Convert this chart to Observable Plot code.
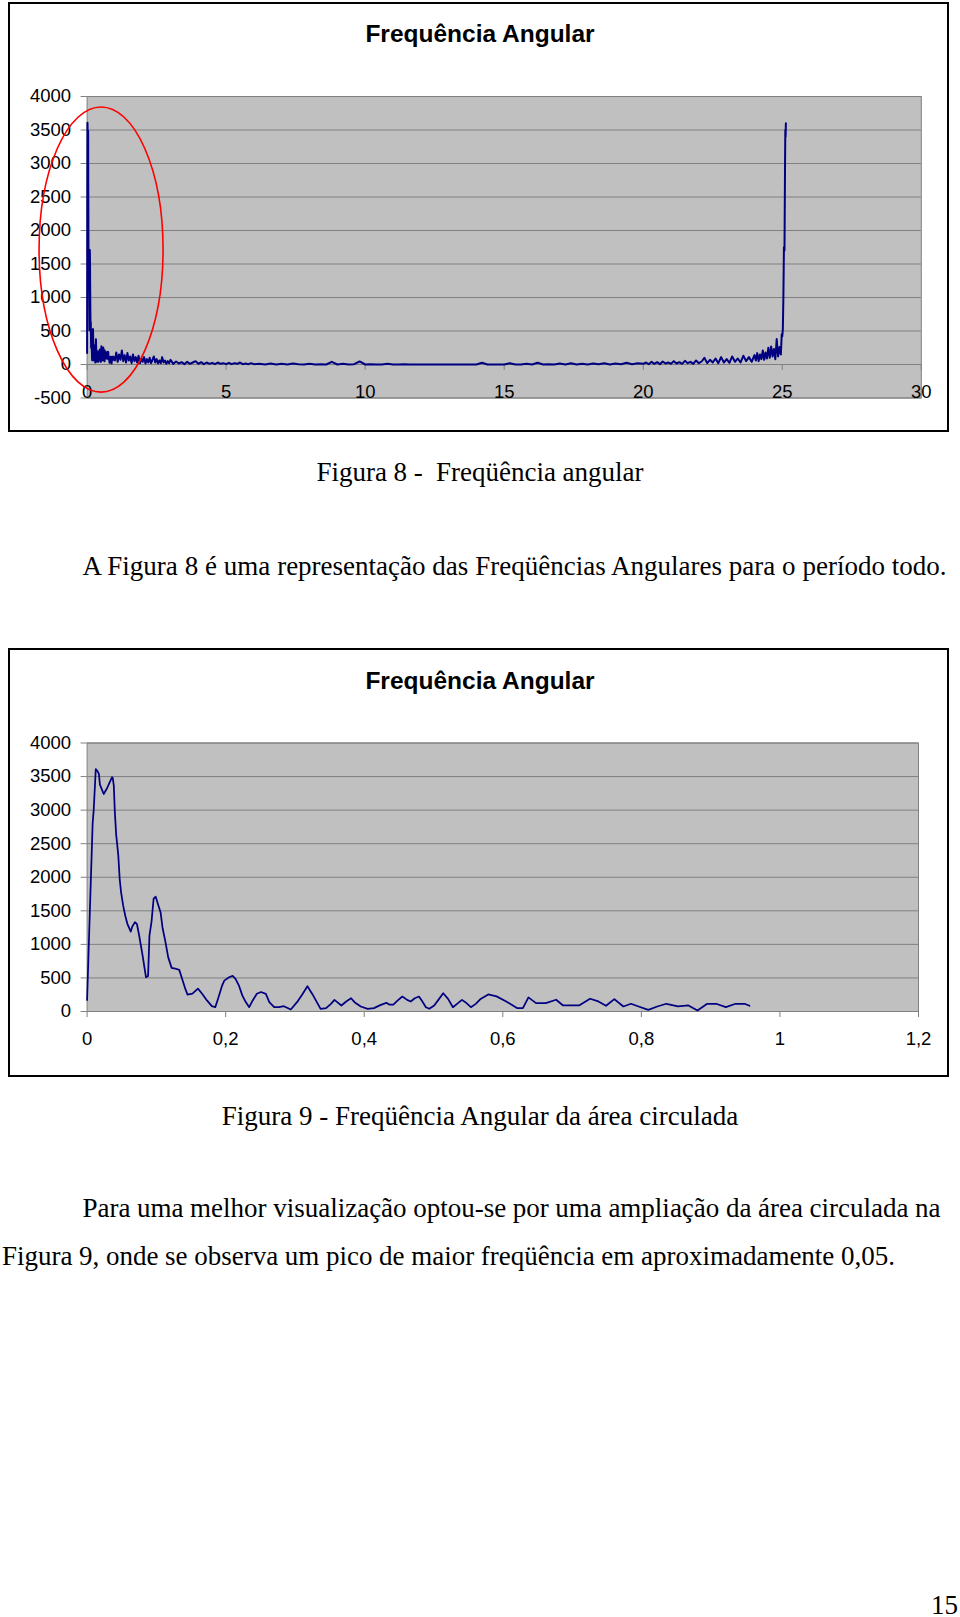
<!DOCTYPE html>
<html><head><meta charset="utf-8">
<script src="https://cdn.jsdelivr.net/npm/d3@7"></script>
<script src="https://cdn.jsdelivr.net/npm/@observablehq/plot@0.6"></script>
<style>
html,body{margin:0;padding:0;background:#fff;}
body{width:960px;height:1617px;position:relative;overflow:hidden;}
.frame{position:absolute;border:2px solid #000;box-sizing:border-box;}
.ctitle{position:absolute;left:0;width:960px;text-align:center;font:bold 24.5px "Liberation Sans",Arial,sans-serif;line-height:30px;color:#000;}
.serif{position:absolute;font-family:"Liberation Serif","Times New Roman",serif;font-size:27px;line-height:32px;white-space:pre;color:#000;}
.plot{position:absolute;}
</style></head><body>

<div class="frame" style="left:8px;top:2px;width:941px;height:430px;"></div>
<div class="ctitle" style="top:19px;">Frequência Angular</div>
<div id="chart1" class="plot" style="left:10px;top:60px;"></div>

<div class="serif" data-w="327" style="left:316.5px;top:456px;">Figura 8 -  Freqüência angular</div>
<div class="serif" data-w="864" style="left:82.5px;top:549.5px;">A Figura 8 é uma representação das Freqüências Angulares para o período todo.</div>

<div class="frame" style="left:8px;top:647.5px;width:941px;height:429px;"></div>
<div class="ctitle" style="top:665.5px;">Frequência Angular</div>
<div id="chart2" class="plot" style="left:10px;top:700px;"></div>

<div class="serif" data-w="516.6" style="left:221.7px;top:1099.5px;">Figura 9 - Freqüência Angular da área circulada</div>
<div class="serif" data-w="858" style="left:82.5px;top:1191.5px;">Para uma melhor visualização optou-se por uma ampliação da área circulada na</div>
<div class="serif" data-w="893" style="left:2px;top:1239.5px;">Figura 9, onde se observa um pico de maior freqüência em aproximadamente 0,05.</div>
<div class="serif" style="right:2px;top:1589px;">15</div>

<script>
// ---------- DATA ----------
// Zoomed view (Figura 9): angular frequency vs amplitude, 0 to ~0.96
const zoomFreq = [0.000,0.004,0.008,0.0095,0.0115,0.0125,0.015,0.017,0.0185,0.024,0.029,0.036,0.037,0.0386,0.040,0.042,0.045,0.047,0.049,0.052,0.055,0.058,0.063,0.065,0.069,0.072,0.075,0.080,0.085,0.088,0.090,0.093,0.096,0.099,0.102,0.106,0.109,0.113,0.117,0.122,0.127,0.133,0.137,0.141,0.145,0.152,0.160,0.166,0.173,0.180,0.185,0.189,0.195,0.198,0.205,0.210,0.214,0.219,0.224,0.229,0.234,0.239,0.245,0.251,0.258,0.263,0.270,0.277,0.284,0.294,0.303,0.311,0.318,0.325,0.333,0.337,0.345,0.352,0.357,0.361,0.367,0.374,0.381,0.386,0.395,0.405,0.414,0.424,0.432,0.436,0.442,0.448,0.455,0.462,0.467,0.473,0.479,0.483,0.489,0.494,0.501,0.507,0.514,0.521,0.528,0.534,0.541,0.546,0.554,0.561,0.568,0.579,0.591,0.605,0.621,0.629,0.637,0.648,0.662,0.677,0.687,0.710,0.726,0.738,0.749,0.761,0.774,0.785,0.796,0.810,0.823,0.836,0.853,0.868,0.881,0.895,0.908,0.922,0.936,0.949,0.956];
const zoomAmp = [170,1500,2800,3000,3400,3610,3580,3540,3380,3240,3330,3490,3480,3360,2980,2630,2330,1980,1780,1580,1430,1310,1190,1260,1330,1300,1140,840,510,530,1130,1340,1680,1710,1610,1480,1240,1040,810,650,640,620,490,360,250,265,340,265,165,80,65,190,390,460,510,530,490,390,240,140,65,165,265,290,262,139,64,64,79,30,139,262,376,262,114,40,50,114,173,139,89,149,198,139,74,40,50,99,129,104,104,163,223,173,149,198,223,163,64,40,89,173,272,188,64,114,173,139,64,114,188,255,225,150,50,50,210,125,125,175,90,90,190,150,85,185,75,115,75,25,75,115,75,90,15,115,115,65,115,115,85];

// Full view (Figura 8): rest of the spectrum, read as sampled bands
const bandStart = [1.0, 3.1, 6.2, 20.1, 24.05];
const bandStep  = [0.05, 0.1, 0.2, 0.1, 0.05];
const bandA = [60,180,40,150,70,210,50,140,30,170,60,120,20,150,50,110,30,130,20,90,40,110,15,80,30,100,20,70,120,30,80,15,60,20,110,30,60,10,50,20,70];
const bandB = [10,45,15,35,5,40,10,30,50,10,35,5,30,10,25,5,30,10,20,5,25,5,20,10,30,5,15,5,20,5];
const bandC = [10,0,15,0,10,0,15,5,0,10,0,5,0,40,0,10,0,5,45,0,5,0,0,10,0,0,5,0,0,0,0,0,0,0,0,0,0,0,0,0,25,0,0,0,0,20,0,0,10,0,25,0,5,0,15,0,20,0,10,0,15,5,20,0,15,5,25,5,20,10];
const bandD = [30,5,40,10,35,5,45,15,30,10,50,15,35,10,55,20,40,10,60,20,45,100,20,70,30,90,20,110,30,80,25,120,40,90,30,130,50,110,40,140];
const bandE = [60,170,50,150,80,210,70,180,90,250,100,270,120,230,80,380,120,260,150];
const peakFreq = [24.98,25.0,25.02,25.04,25.06,25.08,25.10,25.11,25.12,25.13];
const peakAmp  = [450,420,520,1000,1750,1700,3000,3500,3400,3600];

// Axes
const yTicks1 = [-500,0,500,1000,1500,2000,2500,3000,3500,4000];
const xTicks1 = [0,5,10,15,20,25,30];
const xLabels1 = ["0","5","10","15","20","25","30"];
const yTicks2 = [0,500,1000,1500,2000,2500,3000,3500,4000];
const xTicks2 = [0,0.2,0.4,0.6,0.8,1,1.2];
const xLabels2 = ["0","0,2","0,4","0,6","0,8","1","1,2"];

// Red ellipse marking the circled area (bounding box in data units)
const circleX = [-1.71, 2.75];
const circleY = [-420, 3836];

// ---------- BUILD ----------
const zoomData = zoomFreq.map((f, i) => ({f, a: zoomAmp[i]}));
const wideData = zoomData.slice();
[bandA, bandB, bandC, bandD, bandE].forEach((band, k) => {
  band.forEach((a, i) => wideData.push({f: bandStart[k] + i * bandStep[k], a}));
});
peakFreq.forEach((f, i) => wideData.push({f, a: peakAmp[i]}));

const FONT = '"Liberation Sans", Arial, sans-serif';
const GRID = "#808080";
const NAVY = "#000080";

function ellipseMark(index, scales) {
  const x0 = scales.x(circleX[0]), x1 = scales.x(circleX[1]);
  const y0 = scales.y(circleY[0]), y1 = scales.y(circleY[1]);
  return d3.create("svg:ellipse")
    .attr("cx", (x0 + x1) / 2).attr("cy", (y0 + y1) / 2)
    .attr("rx", Math.abs(x1 - x0) / 2).attr("ry", Math.abs(y1 - y0) / 2)
    .attr("fill", "none").attr("stroke", "#ff0000").attr("stroke-width", 1.6)
    .node();
}

function axisMarks(xTicks, xLabels, yTicks) {
  return [
    Plot.axisY(yTicks, {tickSize: 6, tickPadding: 10, stroke: GRID, fill: "#000", fontSize: 18.5, tickFormat: d => String(d), label: null}),
    Plot.ruleX(xTicks, {x: d => d, y1: () => 0, y2: () => 0, insetBottom: -6, stroke: GRID}),
    Plot.text(xTicks, {x: d => d, y: () => 0, dy: 28, text: (d, i) => xLabels[i], fontSize: 18.5, fill: "#000", lineAnchor: "middle", textAnchor: "middle"})
  ];
}

const chart1 = Plot.plot({
  width: 936, height: 368,
  marginLeft: 76.6, marginRight: 25.2, marginTop: 36, marginBottom: 30.5,
  style: {fontFamily: FONT, fontSize: "18.5px", color: "#000", background: "transparent", overflow: "visible"},
  x: {domain: [0, 30], axis: null},
  y: {domain: [-500, 4000]},
  marks: [
    Plot.frame({fill: "#C0C0C0", stroke: null}),
    Plot.ruleY(yTicks1, {stroke: GRID, strokeWidth: 1}),
    Plot.frame({stroke: GRID}),
    ...axisMarks(xTicks1, xLabels1, yTicks1),
    Plot.line(wideData, {x: "f", y: "a", stroke: NAVY, strokeWidth: 2}),
    ellipseMark
  ]
});
document.getElementById("chart1").appendChild(chart1);

const chart2 = Plot.plot({
  width: 936, height: 370,
  marginLeft: 76.6, marginRight: 28, marginTop: 42.5, marginBottom: 59,
  style: {fontFamily: FONT, fontSize: "18.5px", color: "#000", background: "transparent", overflow: "visible"},
  x: {domain: [0, 1.2], axis: null},
  y: {domain: [0, 4000]},
  marks: [
    Plot.frame({fill: "#C0C0C0", stroke: null}),
    Plot.ruleY(yTicks2, {stroke: GRID, strokeWidth: 1}),
    Plot.frame({stroke: GRID}),
    ...axisMarks(xTicks2, xLabels2, yTicks2),
    Plot.line(zoomData, {x: "f", y: "a", stroke: NAVY, strokeWidth: 1.75})
  ]
});
document.getElementById("chart2").appendChild(chart2);

// Fit text lines to the measured widths via word spacing
document.querySelectorAll("[data-w]").forEach(el => {
  const target = +el.dataset.w;
  const natural = el.getBoundingClientRect().width;
  const spaces = (el.textContent.match(/ /g) || []).length;
  if (spaces) el.style.wordSpacing = ((target - natural) / spaces) + "px";
});
</script>
</body></html>
